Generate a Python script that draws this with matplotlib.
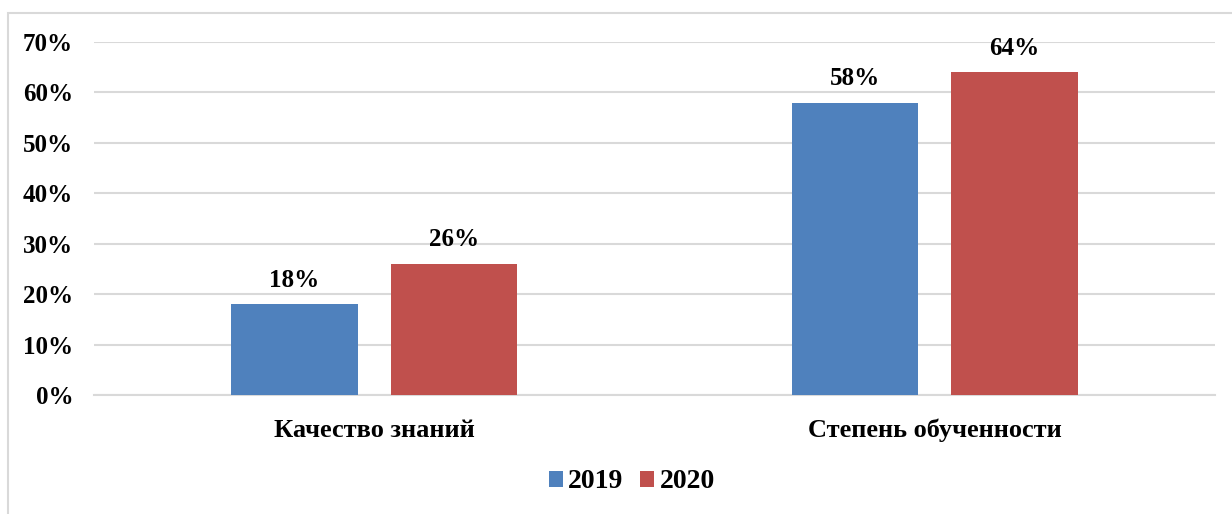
import numpy as np
import matplotlib.pyplot as plt
from matplotlib.patches import Rectangle

categories = ["Качество знаний", "Степень обученности"]
years = ["2019", "2020"]
values_2019 = [18, 58]
values_2020 = [26, 64]
y_ticks = [0, 10, 20, 30, 40, 50, 60, 70]

BLUE = "#4F81BD"
RED = "#C0504D"
plt.rcParams["font.family"] = ["Liberation Serif", "DejaVu Serif"]
plt.rcParams["font.weight"] = "bold"

fig = plt.figure(figsize=(12.32, 5.14), dpi=100)
# light frame around the chart (left and top visible)
fig.patches.append(Rectangle((8 / 1232, -0.1), 1.2, 1 - 13 / 514 + 0.1,
                             transform=fig.transFigure, fill=False,
                             edgecolor="#D9D9D9", linewidth=1.5))

ax = fig.add_axes([94 / 1232, 1 - 395 / 514, (1215 - 94) / 1232, (395 - 42) / 514])
x = np.arange(len(categories))
w = 0.225
off = 0.1423
b1 = ax.bar(x - off, values_2019, w, color=BLUE, label=years[0], zorder=3)
b2 = ax.bar(x + off, values_2020, w, color=RED, label=years[1], zorder=3)

for bars, vals in ((b1, values_2019), (b2, values_2020)):
    for rect, v in zip(bars, vals):
        ax.text(rect.get_x() + rect.get_width() / 2, v + 2.5, f"{v}%",
                ha="center", va="bottom", fontsize=18, fontweight="bold")

ax.set_xlim(-0.5, 1.5)
ax.set_ylim(0, 70)
ax.set_yticks(y_ticks)
ax.set_yticklabels([f"{t}%" for t in y_ticks], fontsize=18, fontweight="bold")
ax.set_xticks(x)
ax.set_xticklabels(categories, fontsize=19, fontweight="bold")
ax.tick_params(axis="y", length=0, pad=15)
ax.tick_params(axis="x", length=0, pad=17)
ax.grid(axis="y", color="#D9D9D9", linewidth=1.5, zorder=0)
for s in ("top", "right", "left"):
    ax.spines[s].set_visible(False)
ax.spines["bottom"].set_color("#D9D9D9")
ax.spines["bottom"].set_linewidth(1.5)

fig.legend(loc="center", bbox_to_anchor=(632 / 1232, 1 - 482 / 514), ncol=2,
           frameon=False, prop={"size": 20, "weight": "bold"},
           handlelength=0.5, handleheight=0.5, handletextpad=0.2, columnspacing=0.6)

fig.savefig("out.png", dpi=100)
